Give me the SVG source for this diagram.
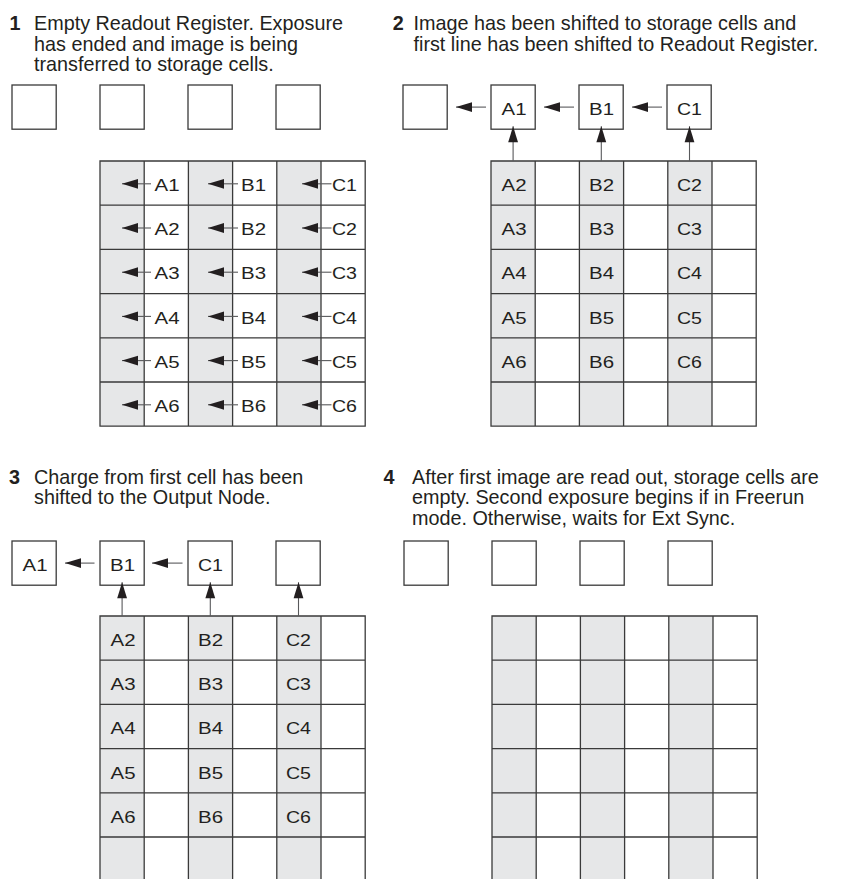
<svg xmlns="http://www.w3.org/2000/svg" xmlns:xlink="http://www.w3.org/1999/xlink" width="848" height="879" viewBox="0 0 848 879">
<style>
.h{font-family:"Liberation Sans",Arial,Helvetica,sans-serif;font-size:19.8px;fill:#231f20}
.n{font-family:"Liberation Sans",Arial,Helvetica,sans-serif;font-size:19.8px;font-weight:bold;fill:#231f20}
.l{font-family:"Liberation Sans",Arial,Helvetica,sans-serif;font-size:16.5px;fill:#231f20}
.reg{fill:#ffffff;stroke:#3a3a3a;stroke-width:1.3}
.shade{fill:#e6e7e8}
.gl{fill:none;stroke:#3a3a3a;stroke-width:1.3}
.ar{fill:none;stroke:#58595b;stroke-width:1.1;marker-end:url(#ah)}
</style>
<defs>
<marker id="ah" markerUnits="userSpaceOnUse" markerWidth="16" markerHeight="11" refX="16" refY="5.5" orient="auto" overflow="visible">
<path d="M0,0.6 L16,5.5 L0,10.4 Z" fill="#231f20"/>
</marker>
<g id="gridShape">
<rect class="shade" x="0" y="0" width="44.2" height="265.2"/>
<rect class="shade" x="88.4" y="0" width="44.2" height="265.2"/>
<rect class="shade" x="176.8" y="0" width="44.2" height="265.2"/>
<path class="gl" d="M0,0H265.2V265.2H0Z M44.2,0V265.2 M88.4,0V265.2 M132.6,0V265.2 M176.8,0V265.2 M221,0V265.2 M0,44.2H265.2 M0,88.4H265.2 M0,132.6H265.2 M0,176.8H265.2 M0,221H265.2"/>
</g>
</defs>
<rect width="848" height="879" fill="#ffffff"/>

<!-- Panel 1 -->
<g id="p1-caption">
<text class="n" x="9.5" y="30">1</text>
<text class="h" x="34" y="30">Empty Readout Register. Exposure</text>
<text class="h" x="34" y="50.7">has ended and image is being</text>
<text class="h" x="34" y="71.4">transferred to storage cells.</text>
</g>
<g id="p1-reg-0"><rect class="reg" x="12" y="85" width="44.2" height="44.2"/></g>
<g id="p1-reg-1"><rect class="reg" x="100" y="85" width="44.2" height="44.2"/></g>
<g id="p1-reg-2"><rect class="reg" x="188" y="85" width="44.2" height="44.2"/></g>
<g id="p1-reg-3"><rect class="reg" x="276" y="85" width="44.2" height="44.2"/></g>
<g id="p1-storage">
<use xlink:href="#gridShape" href="#gridShape" transform="translate(100,161)"/>
<g class="l">
<text x="154.5" y="191" textLength="25" lengthAdjust="spacingAndGlyphs">A1</text>
<text x="241" y="191" textLength="25" lengthAdjust="spacingAndGlyphs">B1</text>
<text x="332" y="191" textLength="25" lengthAdjust="spacingAndGlyphs">C1</text>
<text x="154.5" y="235.2" textLength="25" lengthAdjust="spacingAndGlyphs">A2</text>
<text x="241" y="235.2" textLength="25" lengthAdjust="spacingAndGlyphs">B2</text>
<text x="332" y="235.2" textLength="25" lengthAdjust="spacingAndGlyphs">C2</text>
<text x="154.5" y="279.4" textLength="25" lengthAdjust="spacingAndGlyphs">A3</text>
<text x="241" y="279.4" textLength="25" lengthAdjust="spacingAndGlyphs">B3</text>
<text x="332" y="279.4" textLength="25" lengthAdjust="spacingAndGlyphs">C3</text>
<text x="154.5" y="323.6" textLength="25" lengthAdjust="spacingAndGlyphs">A4</text>
<text x="241" y="323.6" textLength="25" lengthAdjust="spacingAndGlyphs">B4</text>
<text x="332" y="323.6" textLength="25" lengthAdjust="spacingAndGlyphs">C4</text>
<text x="154.5" y="367.8" textLength="25" lengthAdjust="spacingAndGlyphs">A5</text>
<text x="241" y="367.8" textLength="25" lengthAdjust="spacingAndGlyphs">B5</text>
<text x="332" y="367.8" textLength="25" lengthAdjust="spacingAndGlyphs">C5</text>
<text x="154.5" y="412" textLength="25" lengthAdjust="spacingAndGlyphs">A6</text>
<text x="241" y="412" textLength="25" lengthAdjust="spacingAndGlyphs">B6</text>
<text x="332" y="412" textLength="25" lengthAdjust="spacingAndGlyphs">C6</text>
</g>
</g>

<!-- Panel 2 -->
<g id="p2-caption">
<text class="n" x="392.7" y="30">2</text>
<text class="h" x="413.5" y="30">Image has been shifted to storage cells and</text>
<text class="h" x="413.5" y="50.5">first line has been shifted to Readout Register.</text>
</g>
<g id="p2-reg-0"><rect class="reg" x="403" y="85" width="44.2" height="44.2"/></g>
<g id="p2-reg-1"><rect class="reg" x="491" y="85" width="44.2" height="44.2"/><text class="l" x="501.5" y="115" textLength="25" lengthAdjust="spacingAndGlyphs">A1</text></g>
<g id="p2-reg-2"><rect class="reg" x="579" y="85" width="44.2" height="44.2"/><text class="l" x="589" y="115" textLength="25" lengthAdjust="spacingAndGlyphs">B1</text></g>
<g id="p2-reg-3"><rect class="reg" x="667" y="85" width="44.2" height="44.2"/><text class="l" x="677" y="115" textLength="25" lengthAdjust="spacingAndGlyphs">C1</text></g>
<g id="p2-storage">
<use xlink:href="#gridShape" href="#gridShape" transform="translate(491,161)"/>
<g class="l">
<text x="501.5" y="191" textLength="25" lengthAdjust="spacingAndGlyphs">A2</text>
<text x="589" y="191" textLength="25" lengthAdjust="spacingAndGlyphs">B2</text>
<text x="677" y="191" textLength="25" lengthAdjust="spacingAndGlyphs">C2</text>
<text x="501.5" y="235.2" textLength="25" lengthAdjust="spacingAndGlyphs">A3</text>
<text x="589" y="235.2" textLength="25" lengthAdjust="spacingAndGlyphs">B3</text>
<text x="677" y="235.2" textLength="25" lengthAdjust="spacingAndGlyphs">C3</text>
<text x="501.5" y="279.4" textLength="25" lengthAdjust="spacingAndGlyphs">A4</text>
<text x="589" y="279.4" textLength="25" lengthAdjust="spacingAndGlyphs">B4</text>
<text x="677" y="279.4" textLength="25" lengthAdjust="spacingAndGlyphs">C4</text>
<text x="501.5" y="323.6" textLength="25" lengthAdjust="spacingAndGlyphs">A5</text>
<text x="589" y="323.6" textLength="25" lengthAdjust="spacingAndGlyphs">B5</text>
<text x="677" y="323.6" textLength="25" lengthAdjust="spacingAndGlyphs">C5</text>
<text x="501.5" y="367.8" textLength="25" lengthAdjust="spacingAndGlyphs">A6</text>
<text x="589" y="367.8" textLength="25" lengthAdjust="spacingAndGlyphs">B6</text>
<text x="677" y="367.8" textLength="25" lengthAdjust="spacingAndGlyphs">C6</text>
</g>
</g>

<!-- Panel 3 -->
<g id="p3-caption">
<text class="n" x="9" y="484">3</text>
<text class="h" x="34" y="484">Charge from first cell has been</text>
<text class="h" x="34" y="504.3">shifted to the Output Node.</text>
</g>
<g id="p3-reg-0"><rect class="reg" x="12" y="541" width="44.2" height="44.2"/><text class="l" x="22.5" y="571" textLength="25" lengthAdjust="spacingAndGlyphs">A1</text></g>
<g id="p3-reg-1"><rect class="reg" x="100" y="541" width="44.2" height="44.2"/><text class="l" x="110" y="571" textLength="25" lengthAdjust="spacingAndGlyphs">B1</text></g>
<g id="p3-reg-2"><rect class="reg" x="188" y="541" width="44.2" height="44.2"/><text class="l" x="198" y="571" textLength="25" lengthAdjust="spacingAndGlyphs">C1</text></g>
<g id="p3-reg-3"><rect class="reg" x="276" y="541" width="44.2" height="44.2"/></g>
<g id="p3-storage">
<use xlink:href="#gridShape" href="#gridShape" transform="translate(100,616)"/>
<g class="l">
<text x="110.5" y="646" textLength="25" lengthAdjust="spacingAndGlyphs">A2</text>
<text x="198" y="646" textLength="25" lengthAdjust="spacingAndGlyphs">B2</text>
<text x="286" y="646" textLength="25" lengthAdjust="spacingAndGlyphs">C2</text>
<text x="110.5" y="690.2" textLength="25" lengthAdjust="spacingAndGlyphs">A3</text>
<text x="198" y="690.2" textLength="25" lengthAdjust="spacingAndGlyphs">B3</text>
<text x="286" y="690.2" textLength="25" lengthAdjust="spacingAndGlyphs">C3</text>
<text x="110.5" y="734.4" textLength="25" lengthAdjust="spacingAndGlyphs">A4</text>
<text x="198" y="734.4" textLength="25" lengthAdjust="spacingAndGlyphs">B4</text>
<text x="286" y="734.4" textLength="25" lengthAdjust="spacingAndGlyphs">C4</text>
<text x="110.5" y="778.6" textLength="25" lengthAdjust="spacingAndGlyphs">A5</text>
<text x="198" y="778.6" textLength="25" lengthAdjust="spacingAndGlyphs">B5</text>
<text x="286" y="778.6" textLength="25" lengthAdjust="spacingAndGlyphs">C5</text>
<text x="110.5" y="822.8" textLength="25" lengthAdjust="spacingAndGlyphs">A6</text>
<text x="198" y="822.8" textLength="25" lengthAdjust="spacingAndGlyphs">B6</text>
<text x="286" y="822.8" textLength="25" lengthAdjust="spacingAndGlyphs">C6</text>
</g>
</g>

<!-- Panel 4 -->
<g id="p4-caption">
<text class="n" x="383.5" y="484">4</text>
<text class="h" x="412" y="484">After first image are read out, storage cells are</text>
<text class="h" x="412" y="504.3">empty. Second exposure begins if in Freerun</text>
<text class="h" x="412" y="524.6">mode. Otherwise, waits for Ext Sync.</text>
</g>
<g id="p4-reg-0"><rect class="reg" x="404" y="541" width="44.2" height="44.2"/></g>
<g id="p4-reg-1"><rect class="reg" x="492" y="541" width="44.2" height="44.2"/></g>
<g id="p4-reg-2"><rect class="reg" x="580" y="541" width="44.2" height="44.2"/></g>
<g id="p4-reg-3"><rect class="reg" x="668" y="541" width="44.2" height="44.2"/></g>
<g id="p4-storage">
<use xlink:href="#gridShape" href="#gridShape" transform="translate(492,616)"/>
</g>

<!-- Connectors -->
<g id="connectors">
<path class="ar" d="M151,183.8H122"/>
<path class="ar" d="M238,183.8H208"/>
<path class="ar" d="M331.5,183.8H302"/>
<path class="ar" d="M151,228H122"/>
<path class="ar" d="M238,228H208"/>
<path class="ar" d="M331.5,228H302"/>
<path class="ar" d="M151,272.2H122"/>
<path class="ar" d="M238,272.2H208"/>
<path class="ar" d="M331.5,272.2H302"/>
<path class="ar" d="M151,316.4H122"/>
<path class="ar" d="M238,316.4H208"/>
<path class="ar" d="M331.5,316.4H302"/>
<path class="ar" d="M151,360.6H122"/>
<path class="ar" d="M238,360.6H208"/>
<path class="ar" d="M331.5,360.6H302"/>
<path class="ar" d="M151,404.8H122"/>
<path class="ar" d="M238,404.8H208"/>
<path class="ar" d="M331.5,404.8H302"/>

<path class="ar" d="M486,107.1H456"/>
<path class="ar" d="M574,107.1H544"/>
<path class="ar" d="M662,107.1H632"/>
<path class="ar" d="M513.1,161V126.3"/>
<path class="ar" d="M601.3,161V126.3"/>
<path class="ar" d="M689.5,161V126.3"/>

<path class="ar" d="M94.5,563.1H65"/>
<path class="ar" d="M182.5,563.1H152"/>
<path class="ar" d="M122.1,616V582.3"/>
<path class="ar" d="M210.3,616V582.3"/>
<path class="ar" d="M298.5,616V582.3"/>
</g>
</svg>
